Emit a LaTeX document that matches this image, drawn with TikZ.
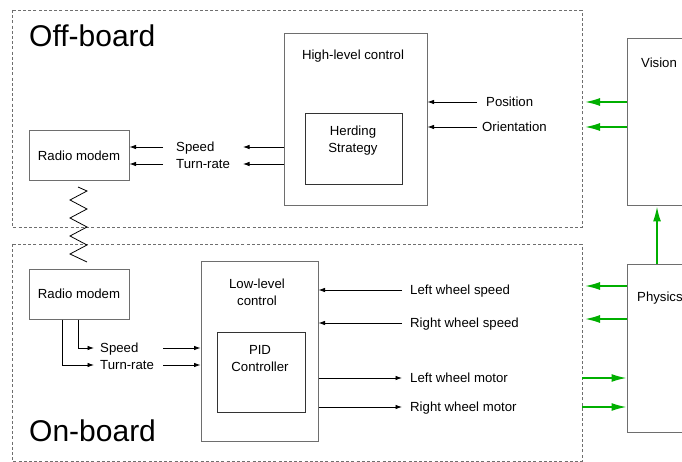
\documentclass[tikz,border=0pt]{standalone}
\usepackage{fontspec}
\setmainfont{Liberation Sans}
\usetikzlibrary{arrows.meta}
\definecolor{boxgray}{RGB}{110,110,110}
\definecolor{sigreen}{RGB}{0,175,0}
\begin{document}
\begin{tikzpicture}[x=1pt,y=-1pt,
  font=\fontsize{13.2}{17}\selectfont,
  region/.style={draw=boxgray,line width=0.9pt,dash pattern=on 3pt off 2.2pt},
  blk/.style={draw=boxgray,line width=1pt,fill=white},
  lbl/.style={inner sep=0pt,anchor=west,text height=9.3pt,text depth=0pt},
  ttl/.style={inner sep=0pt,anchor=base west,font=\fontsize{30}{33}\selectfont},
  arr/.style={line width=0.8pt,-{Latex[length=6.5pt,width=4.5pt]}},
  garr/.style={draw=sigreen,line width=1.6pt,-{Latex[length=15pt,width=8pt]},sigreen}]
\useasboundingbox (0,0) rectangle (682,462);
\clip (0,0) rectangle (682,462);
% regions
\draw[region] (12,10) rectangle (582,227);
\draw[region] (12,244) rectangle (582,461);
\node[ttl] (offt) at (29,47) {Off-board};
\node[ttl] (ont) at (29,441) {On-board};
% blocks
\node[blk,minimum width=100pt,minimum height=50pt,inner sep=0] (rm1) at (79,156) {Radio modem};
\node[blk,minimum width=100pt,minimum height=50pt,inner sep=0] (rm2) at (79,294) {Radio modem};
\node[blk,minimum width=143pt,minimum height=172pt,inner sep=0] (hl) at (355.5,120) {};
\node[lbl,anchor=center] (hlt) at (353,55) {High-level control};
\node[blk,draw=black!80,minimum width=97pt,minimum height=71pt,inner sep=0] (hs) at (353.5,149.5) {};
\node[align=center,inner sep=0] (hst) at (353,141) {Herding\\Strategy};
\node[blk,minimum width=117pt,minimum height=180pt,inner sep=0] (ll) at (259.5,351) {};
\node[align=center,inner sep=0] (llt) at (257,292) {Low-level\\control};
\node[blk,draw=black!80,minimum width=88pt,minimum height=80pt,inner sep=0] (pid) at (261,372) {};
\node[align=center,inner sep=0] (pidt) at (260,359) {PID\\Controller};
\node[blk,minimum width=100pt,minimum height=167pt,inner sep=0] (vis) at (677,122.5) {};
\node[lbl] (vist) at (641,63) {Vision};
\node[blk,minimum width=100pt,minimum height=168pt,inner sep=0] (phys) at (677,348) {};
\node[lbl] (physt) at (637,297) {Physics};
% off-board labels
\node[lbl] (spd) at (176,147) {Speed};
\node[lbl] (tr) at (176,164) {Turn-rate};
\node[lbl] (pos) at (486,102) {Position};
\node[lbl] (ori) at (482,127) {Orientation};
\coordinate (spdtip) at (243,147);
\coordinate (trtip) at (243,164);
\coordinate (posst) at (477,102);
\coordinate (orist) at (477,127);
\draw[arr] (hl.west |- spd.west) -- (spdtip);
\draw[arr] (hl.west |- tr.west) -- (trtip);
\draw[arr] ([xshift=-13pt]spd.west) -- (rm1.east |- spd.west);
\draw[arr] ([xshift=-13pt]tr.west) -- (rm1.east |- tr.west);
\draw[arr] (posst) -- (hl.east |- pos.west);
\draw[arr] (orist) -- (hl.east |- ori.west);
\coordinate (gp) at (585,102);
\coordinate (go) at (585,127);
\draw[garr] (vis.west |- gp) -- (gp);
\draw[garr] (vis.west |- go) -- (go);
% zigzag
\draw[line width=0.8pt,line join=miter] (78,187) -- (87,191) -- (70,200) -- (87,209) -- (70,218) -- (87,227) -- (70,236) -- (87,245) -- (70,254) -- (87,262);
% on-board labels
\node[lbl] (spd2) at (100,348) {Speed};
\node[lbl] (tr2) at (100,365) {Turn-rate};
\node[lbl] (lws) at (410,290) {Left wheel speed};
\node[lbl] (rws) at (410,323) {Right wheel speed};
\node[lbl] (lwm) at (410,378) {Left wheel motor};
\node[lbl] (rwm) at (410,407) {Right wheel motor};
\draw[arr] ([xshift=50pt]rm2.south west) |- ([xshift=-6pt]spd2.west);
\draw[arr] ([xshift=34pt]rm2.south west) |- ([xshift=-6pt]tr2.west);
\draw[arr] ([xshift=63pt]spd2.west) -- (ll.west |- spd2.west);
\draw[arr] ([xshift=63pt]tr2.west) -- (ll.west |- tr2.west);
\draw[arr] ([xshift=-8pt]lws.west) -- (ll.east |- lws.west);
\draw[arr] ([xshift=-8pt]rws.west) -- (ll.east |- rws.west);
\draw[arr] (ll.east |- lwm.west) -- ([xshift=-8pt]lwm.west);
\draw[arr] (ll.east |- rwm.west) -- ([xshift=-8pt]rwm.west);
\coordinate (gl) at (585,286);
\coordinate (gr) at (585,319);
\draw[garr] (phys.west |- gl) -- (gl);
\draw[garr] (phys.west |- gr) -- (gr);
\coordinate (gm1) at (582,378);
\coordinate (gm2) at (582,407);
\draw[garr] (gm1) -- (phys.west |- gm1);
\draw[garr] (gm2) -- (phys.west |- gm2);
\coordinate (gv) at (657,264);
\draw[garr] (gv) -- (gv |- vis.south);
\end{tikzpicture}
\end{document}
